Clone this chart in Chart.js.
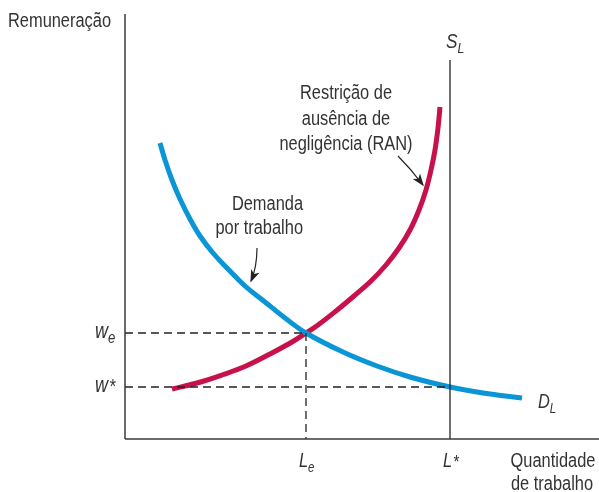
<!DOCTYPE html>
<html><head><meta charset="utf-8">
<script src="https://cdn.jsdelivr.net/npm/chart.js@4"></script>
<style>html,body{margin:0;padding:0;background:#fff}#wrap{width:599px;height:492px;position:relative}</style>
</head><body><div id="wrap"><canvas id="c"></canvas></div>
<script>
// Demand curve (D_L)
const demandX = [35, 40, 47, 55, 65, 75, 88, 103, 120, 140, 160, 181, 218, 252, 285, 325, 358, 397];
const demandY = [296, 279, 259, 240, 220, 203, 186, 170, 153, 137, 121, 106, 87, 73, 62, 52, 46, 41];
// No-shirking constraint (RAN)
const ranX = [47, 72, 97, 121, 145, 167, 181, 193, 211, 229, 246, 261, 274, 285, 294, 301, 306, 310, 313, 315];
const ranY = [50, 56, 64, 73, 85, 97, 106, 114, 128, 143, 158, 174, 191, 209, 229, 249, 269, 289, 311, 332];
// Key values
const wE = 106, wStar = 52, lE = 181, lStar = 325;
const xMax = 474, yMax = 425, sTop = 379;
// Tick-like labels
const yTickLabels = [{v: wE, main: 'w', sub: 'e'}, {v: wStar, main: 'w', sup: '*'}];
const xTickLabels = [{v: lE, main: 'L', sub: 'e'}, {v: lStar, main: 'L', sup: '*'}];

const pts = (xs, ys) => xs.map((x, i) => ({x, y: ys[i]}));
const FONT = '"Liberation Sans", Arial, sans-serif';
const SQ = 0.82; // horizontal condensing
const TXT = '#333';

function text(ctx, s, px, py, font, align) {
  ctx.save();
  ctx.font = font;
  ctx.textAlign = align || 'left';
  ctx.translate(px, py);
  ctx.scale(SQ, 1);
  ctx.fillText(s, 0, 0);
  ctx.restore();
}
function width(ctx, s, font) { ctx.font = font; return ctx.measureText(s).width * SQ; }

function italicLabel(ctx, main, sub, sup, px, py, size, align) {
  const fMain = 'italic ' + size + 'px ' + FONT;
  const fSub = 'italic ' + Math.round(size * 0.72) + 'px ' + FONT;
  const fSup = 'italic ' + Math.round(size * 0.9) + 'px ' + FONT;
  const mw = width(ctx, main, fMain);
  const sw = sub ? width(ctx, sub, fSub) : (sup ? width(ctx, sup, fSup) : 0);
  let left = px;
  if (align === 'right') left = px - mw - sw;
  else if (align === 'center') left = px - (mw + sw) / 2;
  text(ctx, main, left, py, fMain);
  if (sub) text(ctx, sub, left + mw, py + 5, fSub);
  if (sup) text(ctx, sup, left + mw + 1, py + 1, fSup);
}

function arrow(ctx, x0, y0, cx, cy, x1, y1) {
  ctx.beginPath();
  ctx.moveTo(x0, y0);
  ctx.quadraticCurveTo(cx, cy, x1, y1);
  ctx.lineWidth = 1.2;
  ctx.strokeStyle = '#222';
  ctx.stroke();
  const a = Math.atan2(y1 - cy, x1 - cx);
  const L = 11, W = 4.5;
  ctx.beginPath();
  ctx.moveTo(x1 + 1.5 * Math.cos(a), y1 + 1.5 * Math.sin(a));
  ctx.lineTo(x1 - L * Math.cos(a) + W * Math.sin(a), y1 - L * Math.sin(a) - W * Math.cos(a));
  ctx.lineTo(x1 - L * 0.7 * Math.cos(a), y1 - L * 0.7 * Math.sin(a));
  ctx.lineTo(x1 - L * Math.cos(a) - W * Math.sin(a), y1 - L * Math.sin(a) + W * Math.cos(a));
  ctx.closePath();
  ctx.fillStyle = '#222';
  ctx.fill();
}

const annot = {
  id: 'annot',
  afterDatasetsDraw(chart) {
    const {ctx, scales: {x, y}} = chart;
    const X = v => x.getPixelForValue(v), Y = v => y.getPixelForValue(v);
    ctx.save();
    ctx.fillStyle = TXT;
    ctx.textBaseline = 'alphabetic';
    const F = '20px ' + FONT;
    // axis titles
    text(ctx, 'Remuneração', X(0) - 117, Y(yMax) + 13, F, 'left');
    text(ctx, 'Quantidade', X(0) + 428, Y(0) + 28, F, 'center');
    text(ctx, 'de trabalho', X(0) + 427, Y(0) + 51, F, 'center');
    // RAN label
    text(ctx, 'Restrição de', X(0) + 221, Y(0) - 340, F, 'center');
    text(ctx, 'ausência de', X(0) + 221, Y(0) - 314, F, 'center');
    text(ctx, 'negligência (RAN)', X(0) + 221, Y(0) - 289, F, 'center');
    // Demand label
    text(ctx, 'Demanda', X(0) + 178, Y(0) - 229, F, 'right');
    text(ctx, 'por trabalho', X(0) + 178, Y(0) - 205, F, 'right');
    // tick labels
    yTickLabels.forEach(t => italicLabel(ctx, t.main, t.sub, t.sup, X(0) - 30, Y(t.v) + 5, 22, 'left'));
    xTickLabels.forEach(t => italicLabel(ctx, t.main, t.sub, t.sup, X(t.v) - 7, Y(0) + 28, 20, 'left'));
    // curve names
    italicLabel(ctx, 'S', 'L', null, X(lStar) - 4, Y(sTop) - 12, 21, 'left');
    italicLabel(ctx, 'D', 'L', null, X(demandX[demandX.length - 1]) + 16, Y(demandY[demandY.length - 1]) + 10, 20, 'left');
    // arrows
    arrow(ctx, X(0) + 273, Y(0) - 283, X(0) + 286, Y(0) - 270, X(0) + 298, Y(0) - 254);
    arrow(ctx, X(0) + 132, Y(0) - 191, X(0) + 132, Y(0) - 172, X(0) + 126, Y(0) - 158);
    ctx.restore();
  }
};

const line = (data, color, width, dash, tension) => ({
  data, borderColor: color, borderWidth: width, borderDash: dash || [],
  pointRadius: 0, showLine: true, fill: false, clip: false,
  tension: tension || 0, borderCapStyle: 'butt'
});

new Chart(document.getElementById('c'), {
  type: 'scatter',
  data: {
    datasets: [
      line([{x: 0, y: 0}, {x: 0, y: yMax}], '#3a3a3a', 1.5),
      line([{x: 0, y: 0}, {x: xMax, y: 0}], '#3a3a3a', 1.5),
      line([{x: 0, y: wE}, {x: lE, y: wE}], '#222', 1.3, [8, 5]),
      line([{x: lE, y: wE}, {x: lE, y: 0}], '#222', 1.3, [8, 5]),
      line([{x: 0, y: wStar}, {x: lStar, y: wStar}], '#222', 1.3, [8, 5]),
      line([{x: lStar, y: 0}, {x: lStar, y: sTop}], '#222', 1.3),
      line(pts(demandX, demandY), '#0a96d6', 5, null, 0.4),
      line(pts(ranX, ranY), '#c8104b', 5, null, 0.4)
    ]
  },
  options: {
    responsive: true, maintainAspectRatio: false, animation: false,
    layout: {padding: {left: 125, top: 14, right: 0, bottom: 53}},
    plugins: {legend: {display: false}, tooltip: {enabled: false}},
    scales: {
      x: {type: 'linear', min: 0, max: xMax, display: false},
      y: {type: 'linear', min: 0, max: yMax, display: false}
    }
  },
  plugins: [annot]
});
</script></body></html>
